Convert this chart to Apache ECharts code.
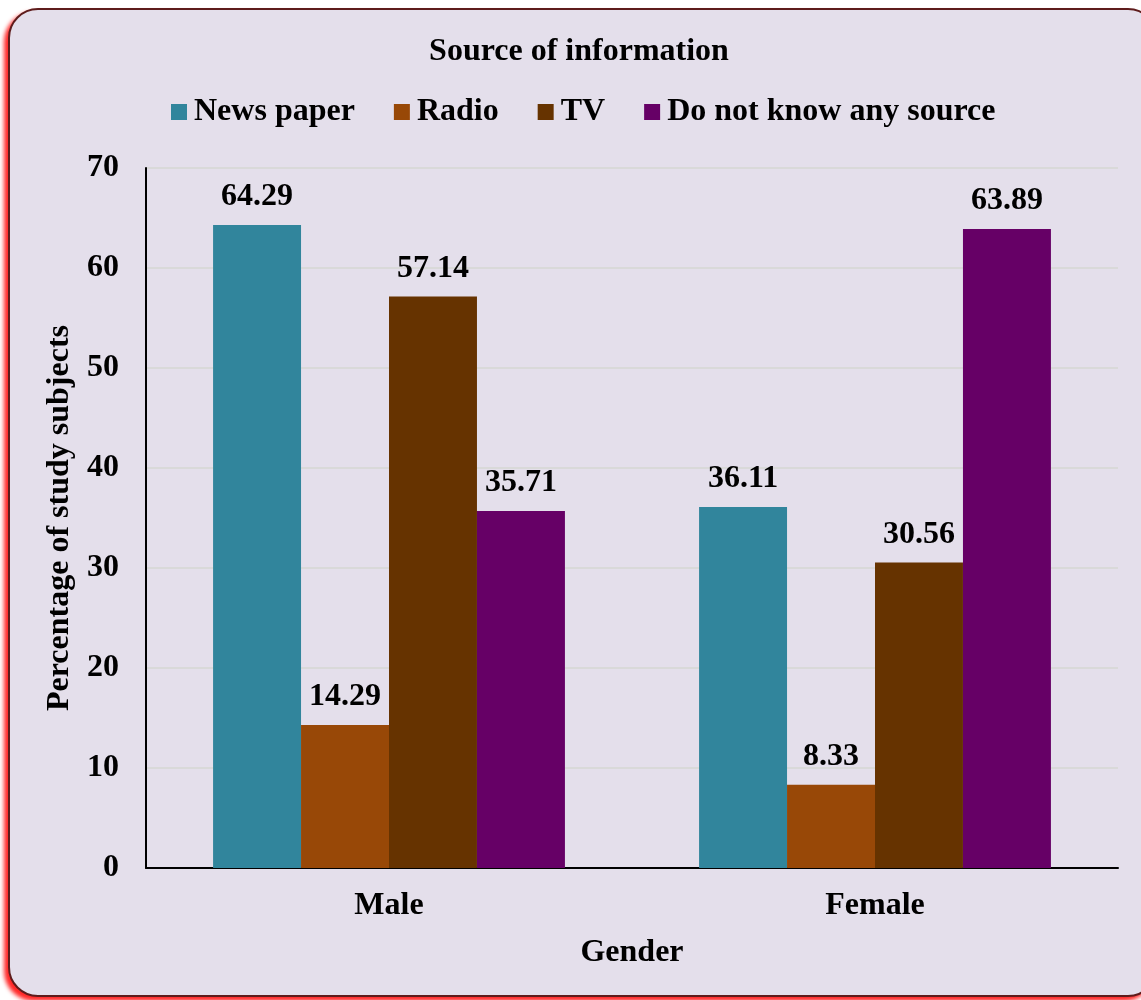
<!DOCTYPE html>
<html>
<head>
<meta charset="utf-8">
<script src="https://cdn.jsdelivr.net/npm/echarts@6/dist/echarts.min.js"></script>
<style>
html,body{margin:0;padding:0;background:#ffffff;width:1141px;height:1000px;overflow:hidden;}
#frame{position:absolute;left:8px;top:8px;width:1150px;height:989px;box-sizing:border-box;border:2.5px solid #5e1c1c;border-radius:30px;background:#E4DFEB;box-shadow:-4px 4px 4px rgba(255,0,0,0.85);}
#chart{position:absolute;left:0;top:0;width:1141px;height:1000px;}
</style>
</head>
<body>
<div id="frame"></div>
<div id="chart"></div>
<script>
const categories = ['Male', 'Female'];
const seriesNames = ['News paper', 'Radio', 'TV', 'Do not know any source'];
const newsPaper = [64.29, 36.11];
const radio = [14.29, 8.33];
const tv = [57.14, 30.56];
const doNotKnow = [35.71, 63.89];
const yTicks = [0, 10, 20, 30, 40, 50, 60, 70];
const colors = ['#31859C', '#984807', '#663300', '#660066'];

const FONT = '"Liberation Serif", "Times New Roman", serif';
const FS = 32;
const chart = echarts.init(document.getElementById('chart'), null, {renderer: 'canvas'});
const allData = [newsPaper, radio, tv, doNotKnow];

chart.setOption({
  backgroundColor: 'transparent',
  animation: false,
  title: {
    text: 'Source of information',
    left: 574, top: 31, textAlign: 'center',
    textStyle: {fontFamily: FONT, fontWeight: 'bold', fontSize: FS, color: '#000'}
  },
  legend: {
    data: seriesNames,
    left: 166, top: 91,
    icon: 'rect', itemWidth: 16, itemHeight: 16, itemGap: 39,
    textStyle: {fontFamily: FONT, fontWeight: 'bold', fontSize: FS, color: '#000', padding: [0,0,0,2]}
  },
  grid: {left: 146, right: 23, top: 168, bottom: 132, containLabel: false},
  xAxis: {
    type: 'category', data: categories,
    name: 'Gender', nameLocation: 'middle', nameGap: 69,
    nameTextStyle: {fontFamily: FONT, fontWeight: 'bold', fontSize: FS, color: '#000'},
    axisLine: {lineStyle: {color: '#000', width: 2}},
    axisTick: {show: false},
    axisLabel: {fontFamily: FONT, fontWeight: 'bold', fontSize: FS, color: '#000', margin: 22}
  },
  yAxis: {
    type: 'value', min: yTicks[0], max: yTicks[yTicks.length-1], interval: 10,
    name: 'Percentage of study subjects', nameLocation: 'middle', nameGap: 66, nameRotate: 90,
    nameTextStyle: {fontFamily: FONT, fontWeight: 'bold', fontSize: FS, color: '#000'},
    axisLine: {show: true, lineStyle: {color: '#000', width: 2}},
    axisTick: {show: false},
    axisLabel: {fontFamily: FONT, fontWeight: 'bold', fontSize: FS, color: '#000', margin: 27},
    splitLine: {lineStyle: {color: '#D9D9D9', width: 2}}
  },
  series: seriesNames.map((n, i) => ({
    name: n, type: 'bar', data: allData[i],
    barGap: '0%', barCategoryGap: '27.6%',
    itemStyle: {color: colors[i]},
    label: {
      show: true, position: 'top', distance: 12,
      formatter: p => p.value.toFixed(2),
      fontFamily: FONT, fontWeight: 'bold', fontSize: FS, color: '#000'
    }
  }))
});
</script>
</body>
</html>
